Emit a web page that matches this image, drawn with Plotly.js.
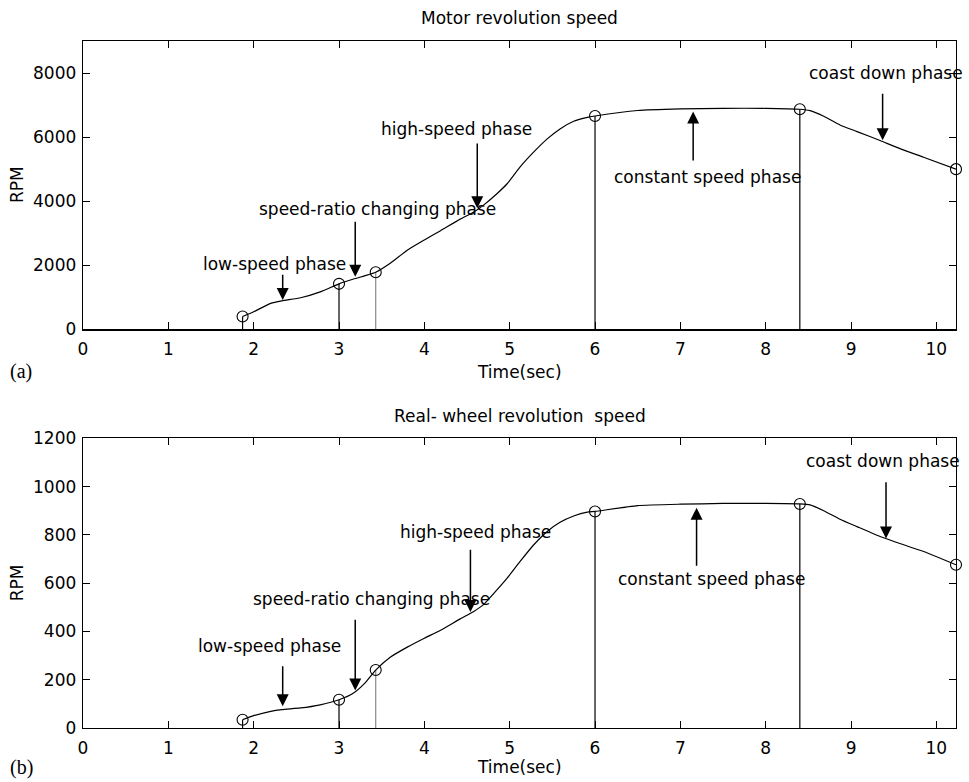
<!DOCTYPE html>
<html>
<head>
<meta charset="utf-8">
<script src="https://cdn.plot.ly/plotly-3.0.1.min.js"></script>
<style>
  html, body { margin: 0; padding: 0; background: #fff; }
  #chart { width: 969px; height: 782px; }
</style>
</head>
<body>
<div id="chart"></div>
<script>
// Sampled drive-cycle curves (time in seconds, speeds in RPM)
const timeSec = [1.87, 2.0, 2.2, 2.33, 2.55, 2.78, 3.0, 3.17, 3.3, 3.43,
  3.6, 3.8, 4.0, 4.19, 4.42, 4.58, 4.69, 4.85, 4.97, 5.12,
  5.28, 5.44, 5.59, 5.75, 5.91, 6.0, 6.5, 7.0, 7.5, 8.0,
  8.4, 8.52, 8.68, 8.87, 9.07, 9.34, 9.58, 9.85, 10.23];
const motorRPM = [400, 550, 810, 890, 985, 1170, 1420, 1570, 1670, 1780,
  2060, 2470, 2790, 3080, 3440, 3662, 3870, 4233, 4545, 5063,
  5530, 5945, 6257, 6494, 6618, 6660, 6830, 6880, 6900, 6900,
  6870, 6826, 6650, 6380, 6173, 5893, 5634, 5373, 5000];
const wheelRPM = [34, 51, 69, 76, 83, 96, 117, 145, 185, 240,
  293, 335, 372, 405, 452, 483, 510, 572, 621, 689,
  758, 814, 852, 878, 894, 897, 921, 927, 930, 930,
  928, 924, 900, 865, 834, 793, 763, 731, 676];

// Phase boundaries (circles) and the speed at each boundary
const phaseTime = [1.87, 3.0, 3.43, 6.0, 8.4, 10.23];
const motorPhaseRPM = [400, 1420, 1780, 6660, 6870, 5000];
const wheelPhaseRPM = [34, 117, 240, 897, 928, 676];

// Phase names
const phaseLabels = ['low-speed phase', 'speed-ratio changing phase', 'high-speed phase',
  'constant speed phase', 'coast down phase'];

// Axis ticks
const timeTicks = [0, 1, 2, 3, 4, 5, 6, 7, 8, 9, 10];
const motorTicks = [0, 2000, 4000, 6000, 8000];
const wheelTicks = [0, 200, 400, 600, 800, 1000, 1200];

const FONT = 'DejaVu Sans, Arial, sans-serif';
const INK = '#000';

function curveTrace(xs, ys, xa, ya) {
  return { x: xs, y: ys, xaxis: xa, yaxis: ya, type: 'scatter', mode: 'lines',
    line: { color: INK, width: 1.2, shape: 'spline', smoothing: 0.5 }, hoverinfo: 'skip' };
}
function markerTrace(xs, ys, xa, ya) {
  return { x: xs, y: ys, xaxis: xa, yaxis: ya, type: 'scatter', mode: 'markers', cliponaxis: false,
    marker: { symbol: 'circle-open', size: 11, color: INK, line: { width: 1.1, color: INK } }, hoverinfo: 'skip' };
}
// vertical drop lines from each boundary circle down to the time axis
function dropTraces(xs, ys, xa, ya) {
  const black = { x: [], y: [] }, grey = { x: [], y: [] };
  for (let i = 0; i < xs.length - 1; i++) {
    const tgt = (i === 2) ? grey : black;
    tgt.x.push(xs[i], xs[i], null);
    tgt.y.push(0, ys[i], null);
  }
  return [
    { x: black.x, y: black.y, xaxis: xa, yaxis: ya, type: 'scatter', mode: 'lines',
      line: { color: INK, width: 1.2 }, hoverinfo: 'skip' },
    { x: grey.x, y: grey.y, xaxis: xa, yaxis: ya, type: 'scatter', mode: 'lines',
      line: { color: '#8a8a8a', width: 1.2 }, hoverinfo: 'skip' }
  ];
}

const traces = [].concat(
  dropTraces(phaseTime, motorPhaseRPM, 'x2', 'y2'),
  [curveTrace(timeSec, motorRPM, 'x2', 'y2'), markerTrace(phaseTime, motorPhaseRPM, 'x2', 'y2')],
  dropTraces(phaseTime, wheelPhaseRPM, 'x', 'y'),
  [curveTrace(timeSec, wheelRPM, 'x', 'y'), markerTrace(phaseTime, wheelPhaseRPM, 'x', 'y')]
);

// label placement and arrow geometry for each panel: [labelX, labelY, arrowX, tailY, tipY]
const motorNotes = [
  [2.24, 2040, 2.34, 1750, 913],
  [3.45, 3745, 3.19, 3405, 1640],
  [4.375, 6266, 4.62, 5845, 3780],
  [7.32, 4750, 7.15, 5220, 6800],
  [9.41, 8000, 9.37, 7400, 5900]
];
const wheelNotes = [
  [2.18, 340, 2.34, 262, 90],
  [3.38, 534, 3.19, 455, 155],
  [4.6, 812, 4.54, 745, 480],
  [7.36, 617, 7.19, 666, 912],
  [9.37, 1106, 9.41, 1024, 785]
];

const annotations = [];
function addNotes(notes, xr, yr) {
  notes.forEach((n, i) => {
    annotations.push({ xref: xr, yref: yr, x: n[0], y: n[1], text: phaseLabels[i], showarrow: false,
      font: { family: FONT, size: 17, color: INK }, xanchor: 'center', yanchor: 'middle' });
    annotations.push({ xref: xr, yref: yr, axref: xr, ayref: yr, x: n[2], y: n[4], ax: n[2], ay: n[3],
      text: '', showarrow: true, arrowhead: 2, arrowsize: 1.6, arrowwidth: 1.5, arrowcolor: INK, standoff: 0 });
  });
}
addNotes(motorNotes, 'x2', 'y2');
addNotes(wheelNotes, 'x', 'y');

function txt(text, x, y, extra) {
  return Object.assign({ xref: 'paper', yref: 'paper', x: x, y: y, text: text, showarrow: false,
    xanchor: 'center', yanchor: 'middle', font: { family: FONT, size: 17, color: INK } }, extra || {});
}
annotations.push(
  txt('Motor revolution speed', 0.5, 1.0335),
  txt('Real- wheel revolution\u00a0 speed', 0.5, 0.4541),
  txt('Time(sec)', 0.5, 0.5182),
  txt('Time(sec)', 0.5, -0.0568),
  txt('RPM', -0.0756, 0.7904, { textangle: -90 }),
  txt('RPM', -0.0756, 0.2106, { textangle: -90 }),
  txt('(a)', -0.071, 0.5182, { font: { family: 'Liberation Serif, Times New Roman, serif', size: 20, color: INK } }),
  txt('(b)', -0.071, -0.0568, { font: { family: 'Liberation Serif, Times New Roman, serif', size: 20, color: INK } })
);

function xAxis(anchor) {
  return { anchor: anchor, domain: [0, 1], range: [0, 10.23], tickvals: timeTicks,
    ticks: 'inside', ticklen: 7, tickwidth: 1, tickcolor: INK, showline: true, linecolor: INK, linewidth: 1.3,
    mirror: 'ticks', showgrid: false, zeroline: false, ticklabelstandoff: 4,
    tickfont: { family: FONT, size: 17, color: INK } };
}
function yAxis(anchor, domain, range, ticks) {
  return { anchor: anchor, domain: domain, range: range, tickvals: ticks,
    ticks: 'inside', ticklen: 7, tickwidth: 1, tickcolor: INK, showline: true, linecolor: INK, linewidth: 1.3,
    mirror: 'ticks', showgrid: false, zeroline: false, ticklabelstandoff: 2,
    tickfont: { family: FONT, size: 17, color: INK } };
}

const layout = {
  width: 969, height: 782,
  margin: { l: 83, r: 13, t: 41, b: 54 },
  paper_bgcolor: '#fff', plot_bgcolor: '#fff',
  showlegend: false,
  xaxis: xAxis('y'),
  yaxis: yAxis('x', [0, 0.4217], [0, 1200], wheelTicks),
  xaxis2: xAxis('y2'),
  yaxis2: yAxis('x2', [0.5803, 1], [0, 9000], motorTicks),
  annotations: annotations
};

Plotly.newPlot('chart', traces, layout, { displayModeBar: false, staticPlot: true });
</script>
</body>
</html>
